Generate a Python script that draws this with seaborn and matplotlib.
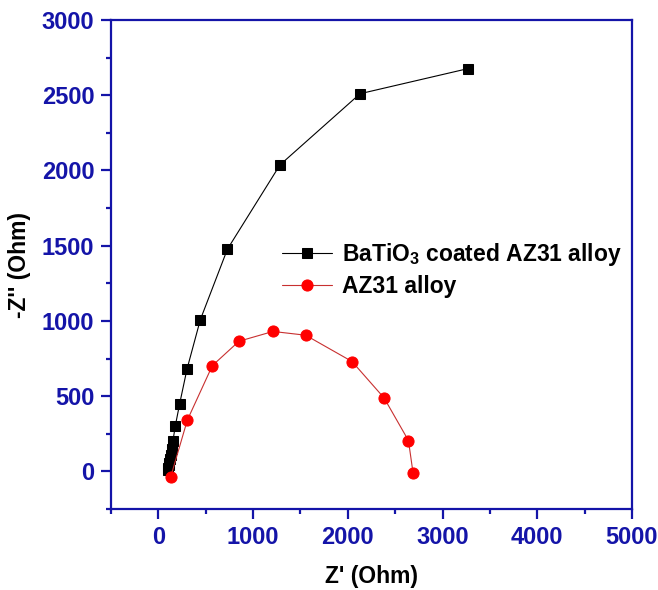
import matplotlib
matplotlib.use("Agg")
import matplotlib.pyplot as plt
import seaborn as sns
import pandas as pd
from matplotlib.ticker import MultipleLocator

# Data
coated_zr = [100, 104, 108, 114, 121, 130, 142, 154, 179, 225, 302, 443, 729, 1284, 2129, 3269]
coated_zi = [12, 25, 40, 58, 80, 108, 150, 203, 303, 450, 679, 1008, 1477, 2037, 2510, 2677]
alloy_zr = [130, 306, 570, 851, 1210, 1555, 2045, 2383, 2640, 2689]
alloy_zi = [-37, 341, 703, 865, 930, 905, 730, 488, 205, -12]
label_coated = "BaTiO$_3$ coated AZ31 alloy"
label_alloy = "AZ31 alloy"

sns.set_style("white")
plt.rcParams['font.family'] = ['Liberation Sans', 'DejaVu Sans']
plt.rcParams['text.color'] = 'black'
plt.rcParams['mathtext.fontset'] = 'custom'
plt.rcParams['mathtext.rm'] = 'Liberation Sans:bold'
plt.rcParams['mathtext.it'] = 'Liberation Sans:bold'
plt.rcParams['mathtext.default'] = 'rm'

blue = '#1414a8'

fig = plt.figure(figsize=(6.58, 5.90), dpi=100)
ax = fig.add_axes([111/658, 1-509/590, 521/658, 489/590])

df1 = pd.DataFrame({"x": coated_zr, "y": coated_zi})
df2 = pd.DataFrame({"x": alloy_zr, "y": alloy_zi})

sns.lineplot(data=df1, x="x", y="y", sort=False, estimator=None, ax=ax,
             color='black', lw=0.8, marker='s', markersize=7.2,
             markeredgecolor='black', markerfacecolor='black', label=label_coated)
sns.lineplot(data=df2, x="x", y="y", sort=False, estimator=None, ax=ax,
             color='#c83030', lw=0.8, marker='o', markersize=8,
             markeredgecolor='#ff0000', markerfacecolor='#ff0000', label=label_alloy)

ax.set_xlim(-500, 5000)
ax.set_ylim(-250, 3000)
ax.xaxis.set_major_locator(MultipleLocator(1000))
ax.xaxis.set_minor_locator(MultipleLocator(500))
ax.yaxis.set_major_locator(MultipleLocator(500))
ax.yaxis.set_minor_locator(MultipleLocator(250))

for s in ax.spines.values():
    s.set_color(blue)
    s.set_linewidth(1.6)

ax.tick_params(axis='both', which='major', direction='out', length=7, width=1.6,
               color=blue, labelcolor=blue, labelsize=17, pad=5,
               bottom=True, left=True, top=False, right=False)
ax.tick_params(axis='both', which='minor', direction='out', length=3.5, width=1.6,
               color=blue, bottom=True, left=True, top=False, right=False)
for lbl in ax.get_xticklabels() + ax.get_yticklabels():
    lbl.set_fontweight('bold')

ax.set_xlabel("Z' (Ohm)", fontsize=16.5, fontweight='bold', color='black', labelpad=12)
ax.set_ylabel("-Z'' (Ohm)", fontsize=16.5, fontweight='bold', color='black', labelpad=8)

leg = ax.legend(loc='center left', bbox_to_anchor=((282-111)/521, 1-(269.5-20)/489),
                frameon=False, borderpad=0, borderaxespad=0, handlelength=2.2,
                handletextpad=0.44, labelspacing=0.3,
                prop={'size': 16.5, 'weight': 'bold'})
for t in leg.get_texts():
    t.set_color('black')

fig.savefig("out.png", dpi=100)
